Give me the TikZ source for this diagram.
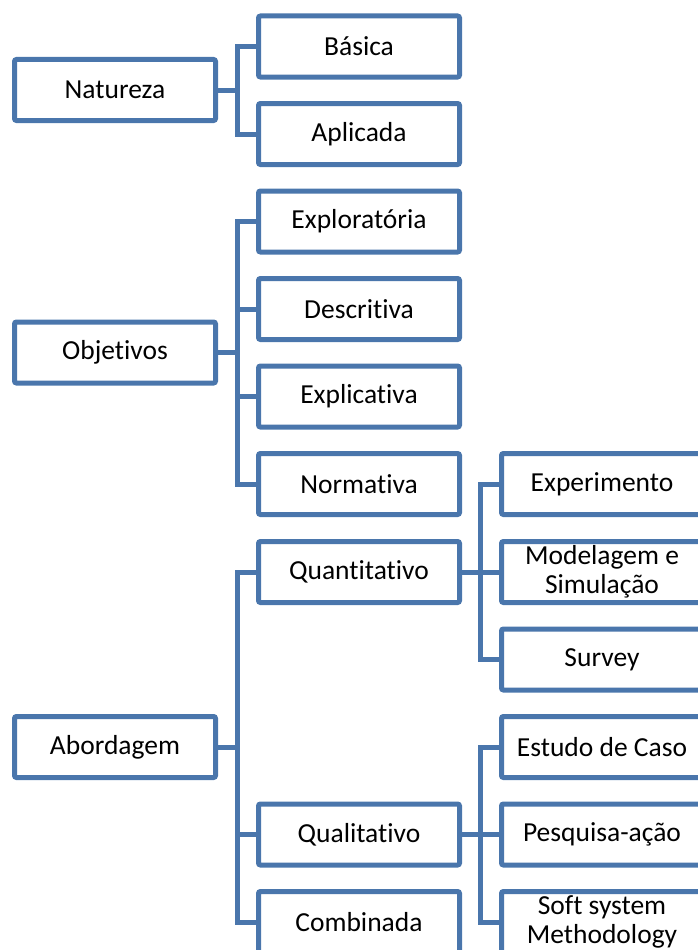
\documentclass[tikz,border=0pt]{standalone}
\usepackage{fontspec}
\setmainfont{Carlito}[Ligatures={NoCommon,NoContextual,NoRare}]
\definecolor{edge}{RGB}{74,118,172}
\newcommand\nolig{\kern0pt}
\begin{document}
\begin{tikzpicture}[x=1pt,y=-1pt,
  box/.style={draw=edge, line width=5pt, rounded corners=2pt, fill=white,
    minimum width=201pt, minimum height=61pt, inner sep=0pt, outer sep=0pt,
    align=center, font=\fontsize{27.5}{29}\selectfont},
  link/.style={draw=edge, line width=5pt, line join=miter}]
\useasboundingbox (0,0) rectangle (698,950);
\clip (0,0) rectangle (698,950);
% left column
\node[box] (nat) at (115,90) {Natureza};
\node[box] (obj) at (115,352.5) {Objet\nolig ivos};
\node[box] (abo) at (115,747) {Abordagem};
% middle column
\node[box] (bas) at (359,46.5) {Básica};
\node[box] (apl) at (359,134) {Aplicada};
\node[box] (exp) at (359,221.5) {Exploratória};
\node[box] (des) at (359,309) {Descrit\nolig iva};
\node[box] (exl) at (359,396.5) {Explicat\nolig iva};
\node[box] (nor) at (359,484) {Normat\nolig iva};
\node[box] (qnt) at (359,572) {Quant\nolig itat\nolig ivo};
\node[box] (qlt) at (359,834.5) {Qualitat\nolig ivo};
\node[box] (com) at (359,922) {Combinada};
% right column
\node[box] (exm) at (602,484) {Experimento};
\node[box] (mod) at (602,572) {Modelagem e\\Simulação};
\node[box] (sur) at (602,659.5) {Survey};
\node[box] (est) at (602,747) {Estudo de Caso};
\node[box] (pes) at (602,834.5) {Pesquisa-ação};
\node[box] (sof) at (602,922) {Soft system\\Methodology};
% connectors
\foreach \c in {bas,apl} \draw[link] (nat.east) -- ++(21.5,0) |- (\c.west);
\foreach \c in {exp,des,exl,nor} \draw[link] (obj.east) -- ++(21.5,0) |- (\c.west);
\foreach \c in {qnt,qlt,com} \draw[link] (abo.east) -- ++(21.5,0) |- (\c.west);
\foreach \c in {exm,mod,sur} \draw[link] (qnt.east) -- ++(20.5,0) |- (\c.west);
\foreach \c in {est,pes,sof} \draw[link] (qlt.east) -- ++(20.5,0) |- (\c.west);
\end{tikzpicture}
\end{document}
